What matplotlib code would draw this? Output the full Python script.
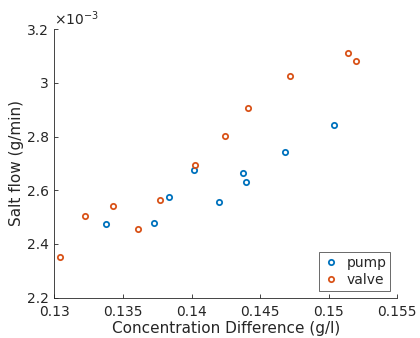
import matplotlib
matplotlib.use("Agg")
import matplotlib.pyplot as plt

pump_x = [0.13375, 0.13724, 0.13834, 0.14018, 0.14203, 0.14373, 0.14395, 0.14685, 0.15039]
pump_y = [2.474, 2.478, 2.576, 2.675, 2.557, 2.663, 2.629, 2.741, 2.843]
valve_x = [0.13042, 0.13226, 0.13428, 0.13612, 0.13773, 0.14028, 0.14244, 0.14412, 0.14716, 0.15141, 0.15201]
valve_y = [2.351, 2.505, 2.541, 2.457, 2.565, 2.694, 2.802, 2.906, 3.025, 3.112, 3.082]

xticks = [0.13, 0.135, 0.14, 0.145, 0.15, 0.155]
xticklabels = ["0.13", "0.135", "0.14", "0.145", "0.15", "0.155"]
yticks = [2.2, 2.4, 2.6, 2.8, 3.0, 3.2]
yticklabels = ["2.2", "2.4", "2.6", "2.8", "3", "3.2"]

plt.rcParams['font.family'] = ['DejaVu Sans']
tc = '#262626'

fig = plt.figure(figsize=(4.2, 3.38), dpi=100)
ax = fig.add_axes([0.1293, 0.1192, 0.8167, 0.7948])

ax.plot(pump_x, pump_y, linestyle='none', marker='o', markersize=3.8,
        markerfacecolor='none', markeredgecolor='#0072BD', markeredgewidth=1.3, label='pump')
ax.plot(valve_x, valve_y, linestyle='none', marker='o', markersize=3.8,
        markerfacecolor='none', markeredgecolor='#D95319', markeredgewidth=1.3, label='valve')

ax.set_xlim(0.13, 0.155)
ax.set_ylim(2.2, 3.2)
ax.set_xticks(xticks)
ax.set_xticklabels(xticklabels)
ax.set_yticks(yticks)
ax.set_yticklabels(yticklabels)
ax.tick_params(direction='in', length=3, width=0.6, colors=tc, labelsize=10, labelcolor=tc)
ax.tick_params(axis='x', pad=5)
ax.tick_params(axis='y', pad=4)
for s in ['top', 'right']:
    ax.spines[s].set_visible(False)
for s in ['left', 'bottom']:
    ax.spines[s].set_color(tc)
    ax.spines[s].set_linewidth(0.6)

ax.set_xlabel('Concentration Difference (g/l)', fontsize=11, color=tc, labelpad=2)
ax.set_ylabel('Salt flow (g/min)', fontsize=11, color=tc, labelpad=2)
ax.text(0.0, 1.003, r'$\times$10$^{-3}$', transform=ax.transAxes, fontsize=10, color=tc,
        ha='left', va='bottom')

leg = ax.legend(loc='lower right', bbox_to_anchor=(0.98, 0.025), fontsize=10, frameon=True,
                fancybox=False, edgecolor=tc, handlelength=1.2, handletextpad=0.5,
                borderpad=0.3, labelspacing=0.2, borderaxespad=0)
leg.get_frame().set_linewidth(0.6)
for t in leg.get_texts():
    t.set_color(tc)

fig.savefig('out.png', dpi=100)
